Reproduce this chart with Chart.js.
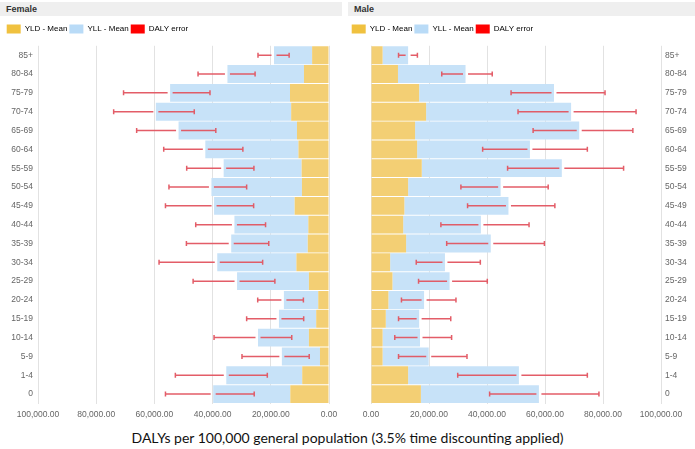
<!DOCTYPE html>
<html><head><meta charset="utf-8">
<script src="https://cdn.jsdelivr.net/npm/chart.js@4/dist/chart.umd.min.js"></script>
<style>
html,body{margin:0;padding:0;background:#fff;width:695px;height:449px;overflow:hidden;font-family:"Liberation Sans",Arial,sans-serif}
.band{position:absolute;top:2px;height:14px;background:#efefef;font-weight:bold;font-size:9px;color:#333;line-height:14px;padding-left:6px;box-sizing:border-box}
#fc{position:absolute;left:0;top:0}
#mc{position:absolute;left:345px;top:0}
#xt{position:absolute;left:0;top:429px;width:695px;text-align:center;font-family:Lato,sans-serif;font-size:14px;color:#111}
</style></head><body>
<div class="band" style="left:0;width:342px">Female</div>
<div class="band" style="left:348px;width:347px">Male</div>
<canvas id="fc" width="345" height="425"></canvas>
<canvas id="mc" width="350" height="425"></canvas>
<div id="xt">DALYs per 100,000 general population (3.5% time discounting applied)</div>
<script>
const ageGroups = ['85+','80-84','75-79','70-74','65-69','60-64','55-59','50-54','45-49','40-44','35-39','30-34','25-29','20-24','15-19','10-14','5-9','1-4','0'];
const seriesNames = ['YLD - Mean','YLL - Mean','DALY error'];
const xTicks = [0, 20000, 40000, 60000, 80000, 100000];

const femaleYLD = [5800,8600,13400,13000,11000,10500,9400,9300,11800,7100,7300,11200,6900,3700,4400,6900,3100,9200,13300];
const femaleYLL = [13100,26300,41200,46500,40700,32000,26800,31100,27700,25400,26300,27200,24700,11800,12800,17500,13100,26100,26500];
const femaleErrLow = [13700,25400,40900,46300,38900,29600,25800,28300,25900,21800,20700,22800,18600,8800,8700,12800,6800,21200,25700];
const femaleErrHigh = [24400,45000,70600,74000,66100,56800,48900,55000,56200,45800,49000,58400,46700,24500,28300,39500,29900,52800,56200];

const maleYLD = [4000,9300,16600,19000,15200,15900,17500,12800,11500,11100,12100,6600,7400,6000,5100,4000,4000,12800,17200];
const maleYLL = [8800,23300,46500,50000,56600,38900,48300,31900,35900,26800,29200,18900,19700,12300,11500,12900,15900,38200,40700];
const maleErrLow = [9500,24400,48300,50700,55900,38500,47100,31000,33300,24100,26100,15600,16400,10500,9500,8200,9500,29900,40900];
const maleErrHigh = [16000,41800,80700,91400,90300,74600,87100,61100,63400,54500,59800,37700,40100,29300,27500,27800,33100,74600,78600];

const FONT = "'Liberation Sans', Arial, sans-serif";
const YLD_COLOR = '#f3cf74';
const YLL_COLOR = '#c7e2f8';
const LEGEND_COLORS = ['#f0c13f', '#b9dbf7', '#ff0000'];
const ERR_COLOR = 'rgba(226,84,96,0.95)';

const fmt = v => Number(v).toLocaleString('en-US', {minimumFractionDigits: 2, maximumFractionDigits: 2});

const errorBarPlugin = {
  id: 'errorBars',
  afterDatasetsDraw(chart) {
    const xs = chart.scales.x, ys = chart.scales.y, ctx = chart.ctx;
    const yld = chart.data.datasets[0].data, yll = chart.data.datasets[1].data;
    const ed = chart.data.datasets[2];
    ctx.save();
    ctx.strokeStyle = ERR_COLOR;
    ctx.lineWidth = 1.5;
    ctx.beginPath();
    for (let i = 0; i < yld.length; i++) {
      const y = ys.getPixelForValue(i);
      const pl = xs.getPixelForValue(ed.errLow[i]);
      const ph = xs.getPixelForValue(ed.errHigh[i]);
      const pt = xs.getPixelForValue(yld[i] + yll[i]);
      const dir = Math.sign(ph - pl);
      ctx.moveTo(pl, y); ctx.lineTo(pt - dir * 2.5, y);
      ctx.moveTo(pt + dir * 2.5, y); ctx.lineTo(ph, y);
      ctx.moveTo(pl, y - 2.5); ctx.lineTo(pl, y + 2.5);
      ctx.moveTo(ph, y - 2.5); ctx.lineTo(ph, y + 2.5);
    }
    ctx.stroke();
    ctx.restore();
  }
};

function makeChart(canvasId, yld, yll, errLow, errHigh, isMale) {
  const tickFont = {family: FONT, size: 8.5};
  const scales = {
    x: {
      type: 'linear', stacked: true, min: xTicks[0], max: xTicks[xTicks.length - 1], reverse: !isMale,
      afterBuildTicks: s => { s.ticks = xTicks.map(v => ({value: v})); },
      ticks: {callback: v => fmt(v), font: tickFont, color: '#666', padding: 6, maxRotation: 0, autoSkip: false},
      grid: {color: '#e2e2e2', drawTicks: false, lineWidth: 1},
      border: {display: false},
      afterFit: s => { s.height = 21.5; }
    },
    xPad: {
      type: 'linear', position: 'top', display: true,
      ticks: {display: false}, grid: {display: false, drawTicks: false}, border: {display: false},
      afterFit: s => { s.height = 2.3; }
    },
    y: {
      type: 'category', stacked: true, position: isMale ? 'right' : 'left',
      grid: {display: false, drawTicks: false}, border: {display: false},
      ticks: {font: tickFont, color: '#666', padding: isMale ? 4 : 5, autoSkip: false},
      afterFit: s => { s.width = isMale ? 34 : 33.3; }
    }
  };
  if (isMale) {
    scales.yPad = {
      type: 'linear', position: 'left', display: true,
      ticks: {display: false}, grid: {display: false, drawTicks: false}, border: {display: false},
      afterFit: s => { s.width = 21.3; }
    };
  }
  return new Chart(document.getElementById(canvasId), {
    type: 'bar',
    data: {
      labels: ageGroups,
      datasets: [
        {label: seriesNames[0], data: yld, backgroundColor: YLD_COLOR, borderWidth: 0, barPercentage: 0.95, categoryPercentage: 1},
        {label: seriesNames[1], data: yll, backgroundColor: YLL_COLOR, borderWidth: 0, barPercentage: 0.95, categoryPercentage: 1},
        {label: seriesNames[2], data: ageGroups.map(() => null), backgroundColor: '#ff0000', barPercentage: 0.95, categoryPercentage: 1, errLow: errLow, errHigh: errHigh}
      ]
    },
    options: {
      indexAxis: 'y', responsive: false, animation: false, events: [],
      layout: {padding: {left: 4.7, right: isMale ? 0 : 16, top: 22.5, bottom: 0}},
      plugins: {
        title: {display: false}, tooltip: {enabled: false},
        legend: {
          position: 'top', align: 'start',
          labels: {
            boxWidth: 14, boxHeight: 9, padding: 2, color: '#444',
            font: {family: FONT, size: 8},
            generateLabels: chart => chart.data.datasets.map((d, i) => ({
              text: d.label, fillStyle: LEGEND_COLORS[i], strokeStyle: LEGEND_COLORS[i], lineWidth: 0, hidden: false, datasetIndex: i
            }))
          }
        }
      },
      scales: scales
    },
    plugins: [errorBarPlugin]
  });
}

makeChart('fc', femaleYLD, femaleYLL, femaleErrLow, femaleErrHigh, false);
makeChart('mc', maleYLD, maleYLL, maleErrLow, maleErrHigh, true);
</script>
</body></html>
